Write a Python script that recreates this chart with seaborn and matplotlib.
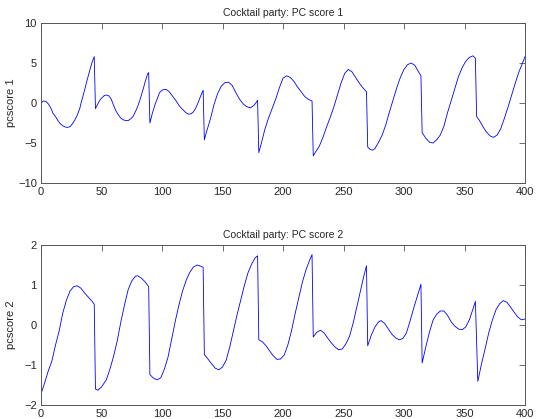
import matplotlib
matplotlib.use("Agg")
import matplotlib.pyplot as plt
import seaborn as sns

# ---- data ----
pc1_x = [0, 2, 4, 6, 8, 10, 12, 14, 16, 18, 20, 22, 24, 26, 28, 30, 32, 34, 36, 38, 40, 42, 44,
         45, 46, 48, 50, 52, 54, 56, 58, 60, 62, 64, 66, 68, 70, 72, 74, 76, 78, 80, 82, 84, 86, 88, 89,
         90, 92, 94, 96, 98, 100, 102, 104, 106, 108, 110, 112, 114, 116, 118, 120, 122, 124, 126, 128, 130, 132, 134,
         135, 137, 140, 143, 146, 149, 152, 155, 158, 161, 164, 167, 170, 173, 176, 178, 179,
         180, 182, 185, 188, 191, 194, 197, 200, 203, 206, 209, 212, 215, 218, 221, 224,
         225, 227, 230, 233, 236, 239, 242, 245, 248, 251, 254, 257, 260, 263, 266, 269,
         270, 272, 274, 276, 279, 282, 285, 288, 291, 294, 297, 300, 303, 306, 309, 312, 314,
         315, 318, 321, 324, 327, 330, 333, 336, 339, 342, 345, 348, 351, 354, 357, 359,
         360, 362, 365, 368, 371, 374, 377, 380, 383, 386, 389, 392, 395, 398, 400]
pc1_y = [0.0, 0.25, 0.2, -0.1, -0.6, -1.3, -1.7, -2.2, -2.6, -2.85, -3.0, -3.05, -2.95, -2.6, -2.1, -1.5, -0.7, 0.5, 1.6, 2.8, 3.9, 5.0, 5.8,
         -0.7, -0.4, 0.2, 0.6, 0.9, 1.0, 0.9, 0.5, -0.3, -1.0, -1.5, -1.9, -2.1, -2.2, -2.2, -2.0, -1.7, -1.1, -0.4, 0.5, 1.5, 2.6, 3.6, 3.8,
         -2.5, -1.3, -0.3, 0.5, 1.3, 1.6, 1.7, 1.65, 1.4, 1.0, 0.6, 0.2, -0.3, -0.65, -0.95, -1.25, -1.4, -1.35, -1.1, -0.6, 0.1, 0.9, 1.6,
         -4.6, -3.5, -2.0, -0.2, 1.2, 2.1, 2.55, 2.6, 2.2, 1.3, 0.5, -0.1, -0.45, -0.6, -0.3, 0.1, 0.35,
         -6.2, -5.1, -3.3, -1.9, -0.7, 0.5, 1.9, 3.1, 3.4, 3.2, 2.7, 2.0, 1.4, 0.8, 0.45, 0.25,
         -6.6, -6.1, -5.4, -4.3, -3.0, -1.8, -0.5, 1.0, 2.5, 3.7, 4.2, 3.9, 3.2, 2.5, 1.9, 1.4,
         -5.5, -5.8, -5.9, -5.7, -4.9, -4.0, -2.7, -1.1, 0.4, 1.9, 3.2, 4.2, 4.8, 5.0, 4.7, 3.9, 3.4,
         -3.7, -4.4, -4.9, -5.0, -4.6, -4.0, -2.9, -1.2, 0.3, 1.8, 3.3, 4.4, 5.2, 5.7, 5.9, 5.6,
         -1.7, -2.1, -2.9, -3.6, -4.1, -4.3, -4.0, -3.2, -1.9, -0.5, 1.0, 2.5, 3.9, 5.0, 5.8]

pc2_x = [0, 3, 6, 9, 12, 15, 18, 21, 24, 27, 30, 33, 36, 39, 42, 44,
         45, 47, 50, 54, 57, 60, 63, 66, 69, 72, 75, 78, 80, 83, 86, 89,
         90, 93, 96, 99, 102, 105, 108, 111, 114, 117, 120, 123, 126, 129, 132, 134,
         135, 138, 141, 144, 147, 150, 153, 156, 159, 162, 165, 168, 171, 174, 177, 179,
         180, 183, 186, 189, 192, 195, 198, 201, 204, 207, 210, 213, 216, 219, 222, 224,
         225, 228, 231, 234, 237, 240, 243, 246, 249, 252, 255, 258, 261, 264, 267, 269,
         270, 273, 276, 279, 281, 284, 287, 290, 293, 296, 299, 302, 305, 308, 311, 314,
         315, 318, 321, 324, 327, 330, 333, 336, 339, 342, 345, 348, 351, 354, 357, 359,
         361, 364, 367, 370, 373, 376, 379, 382, 385, 388, 391, 394, 397, 400]
pc2_y = [-1.72, -1.45, -1.15, -0.9, -0.5, -0.15, 0.3, 0.62, 0.85, 0.96, 0.98, 0.92, 0.8, 0.7, 0.6, 0.52,
         -1.6, -1.63, -1.55, -1.37, -1.1, -0.78, -0.4, 0.08, 0.5, 0.88, 1.1, 1.22, 1.23, 1.17, 1.08, 0.96,
         -1.24, -1.33, -1.37, -1.32, -1.1, -0.8, -0.35, 0.1, 0.5, 0.85, 1.12, 1.32, 1.45, 1.5, 1.47, 1.44,
         -0.74, -0.85, -0.97, -1.08, -1.12, -1.05, -0.88, -0.55, -0.15, 0.25, 0.62, 0.98, 1.3, 1.52, 1.68, 1.73,
         -0.37, -0.42, -0.52, -0.65, -0.77, -0.86, -0.85, -0.75, -0.5, -0.15, 0.28, 0.68, 1.07, 1.38, 1.62, 1.76,
         -0.3, -0.18, -0.13, -0.2, -0.33, -0.45, -0.55, -0.62, -0.6, -0.47, -0.28, 0.05, 0.45, 0.85, 1.25, 1.48,
         -0.52, -0.25, -0.05, 0.08, 0.11, 0.04, -0.1, -0.23, -0.32, -0.37, -0.34, -0.2, 0.1, 0.42, 0.72, 1.02,
         -0.95, -0.55, -0.18, 0.12, 0.27, 0.35, 0.35, 0.24, 0.08, -0.03, -0.1, -0.12, -0.05, 0.13, 0.4, 0.59,
         -1.41, -0.98, -0.6, -0.2, 0.12, 0.38, 0.53, 0.61, 0.57, 0.45, 0.32, 0.2, 0.13, 0.15]

titles = ["Cocktail party: PC score 1", "Cocktail party: PC score 2"]
ylabels = ["pcscore 1", "pcscore 2"]
x_ticks = [0, 50, 100, 150, 200, 250, 300, 350, 400]
y_ticks = [[-10, -5, 0, 5, 10], [-2, -1, 0, 1, 2]]
y_lims = [(-10, 10), (-2, 2)]

sns.set_style("white")
plt.rcParams["font.family"] = ["Liberation Sans", "DejaVu Sans"]

fig = plt.figure(figsize=(5.36, 4.19), dpi=100)
W, H = 536, 419
boxes = [(41, 23, 525, 183), (41, 245, 525, 405)]
series = [(pc1_x, pc1_y), (pc2_x, pc2_y)]

for i in range(2):
    l, t, r, b = boxes[i]
    ax = fig.add_axes([l / W, 1 - b / H, (r - l) / W, (b - t) / H])
    xs, ys = series[i]
    sns.lineplot(x=xs, y=ys, ax=ax, color="#0000ff", linewidth=0.6, sort=False)
    ax.set_xlim(0, 400)
    ax.set_ylim(*y_lims[i])
    ax.set_xticks(x_ticks)
    ax.set_yticks(y_ticks[i])
    ax.tick_params(direction="in", length=4, width=0.6, top=True, right=True,
                   labelsize=8, color="#555555", pad=3)
    for s in ax.spines.values():
        s.set_color("#555555")
        s.set_linewidth(0.7)
        s.set_visible(True)
    ax.set_title(titles[i], fontsize=7.5, pad=5)
    ax.set_ylabel(ylabels[i], fontsize=8)
    ax.yaxis.set_label_coords(-0.052, 0.5)

fig.savefig("out.png", dpi=100)
